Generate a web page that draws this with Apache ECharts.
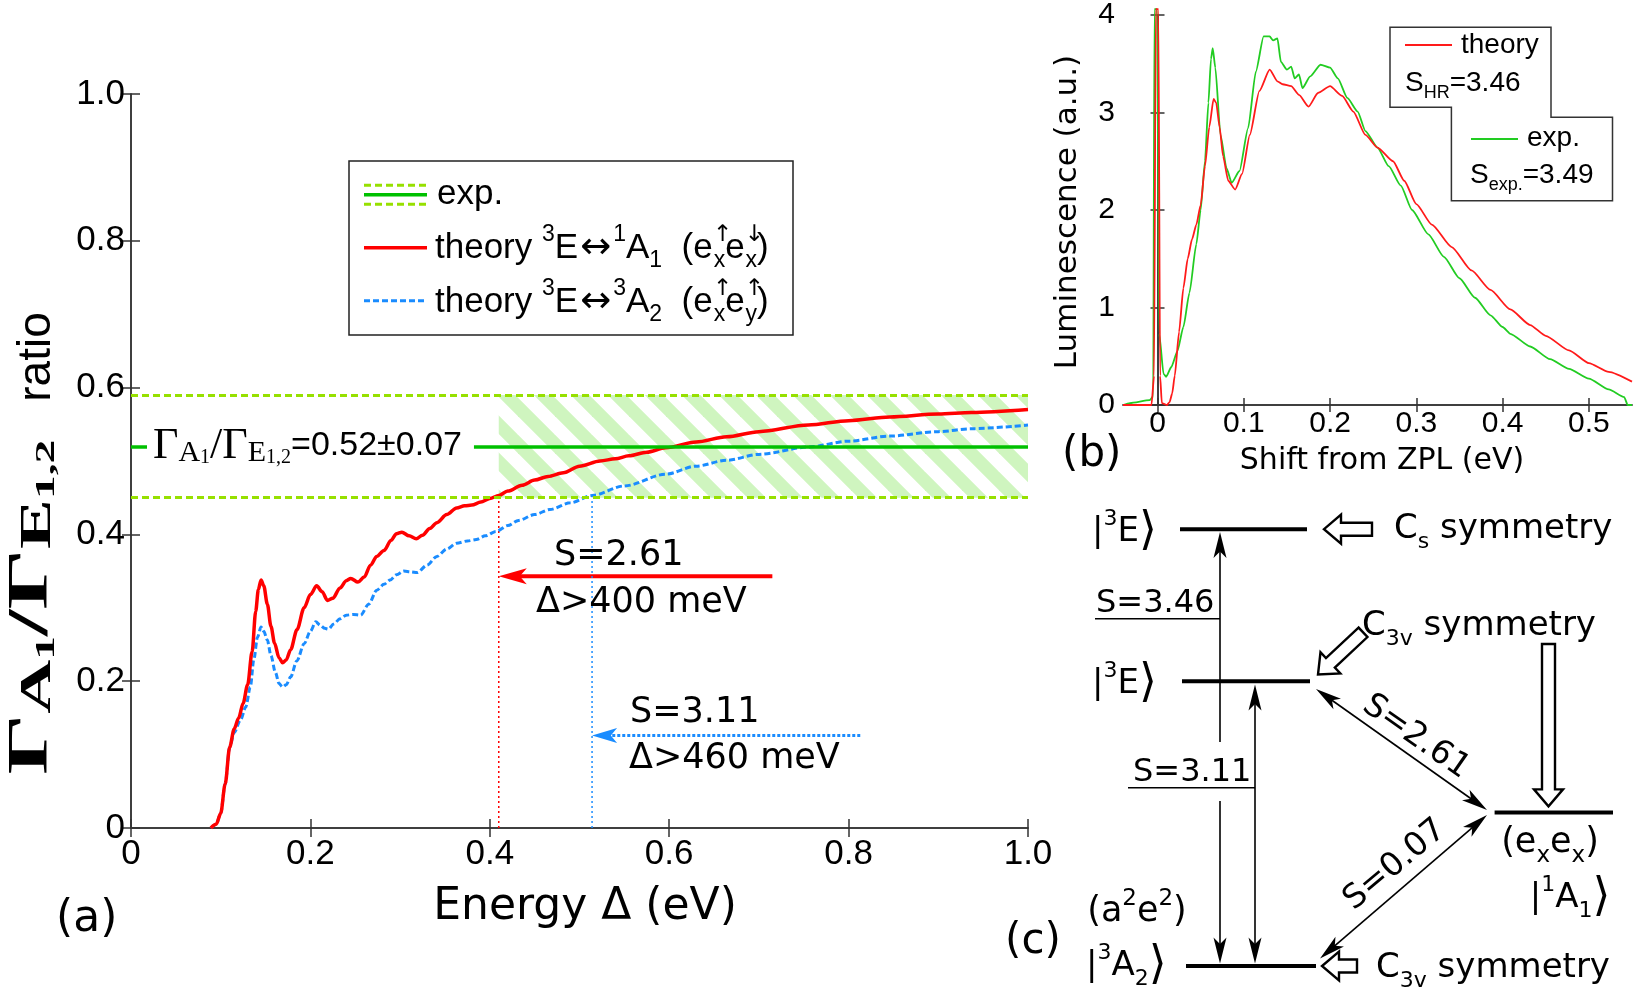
<!DOCTYPE html>
<html>
<head>
<meta charset="utf-8">
<title>Ratio, luminescence and level scheme</title>
<script src="https://cdn.jsdelivr.net/npm/echarts@6.0.0/dist/echarts.min.js"></script>
<style>
  html, body { margin: 0; padding: 0; background: #fff; }
  #chart { width: 1636px; height: 1002px; }
</style>
</head>
<body>
<div id="chart"></div>
<script>
// (a) ratio Γ_A1/Γ_E1,2 against the energy gap Δ (eV)
const theoryA1 = [
  [0.089, 0], [0.095, 0.005], [0.100, 0.02], [0.105, 0.06], [0.110, 0.11], [0.115, 0.135],
  [0.120, 0.15], [0.125, 0.17], [0.130, 0.195], [0.135, 0.24], [0.139, 0.295], [0.142, 0.325],
  [0.145, 0.338], [0.148, 0.33], [0.152, 0.305], [0.156, 0.275], [0.160, 0.252], [0.165, 0.232],
  [0.169, 0.225], [0.173, 0.229], [0.178, 0.243], [0.185, 0.27], [0.193, 0.3], [0.200, 0.318],
  [0.207, 0.33], [0.213, 0.322], [0.219, 0.31], [0.225, 0.313], [0.233, 0.327], [0.240, 0.337],
  [0.245, 0.34], [0.253, 0.335], [0.260, 0.342], [0.267, 0.358], [0.274, 0.37], [0.282, 0.378],
  [0.290, 0.392], [0.296, 0.401], [0.302, 0.403], [0.310, 0.398], [0.318, 0.394], [0.325, 0.399],
  [0.333, 0.408], [0.341, 0.416], [0.352, 0.427], [0.363, 0.436], [0.372, 0.439], [0.380, 0.44],
  [0.390, 0.444], [0.400, 0.449], [0.410, 0.453], [0.420, 0.459], [0.436, 0.467], [0.450, 0.474],
  [0.465, 0.479], [0.482, 0.484], [0.500, 0.493], [0.523, 0.5], [0.540, 0.503], [0.555, 0.507],
  [0.575, 0.512], [0.596, 0.518], [0.630, 0.526], [0.664, 0.533], [0.700, 0.54], [0.755, 0.549],
  [0.800, 0.555], [0.846, 0.56], [0.900, 0.564], [0.937, 0.566], [1.000, 0.57]
];
const theoryA2 = [
  [0.089, 0], [0.095, 0.005], [0.100, 0.02], [0.105, 0.06], [0.110, 0.11], [0.115, 0.13],
  [0.122, 0.147], [0.128, 0.165], [0.133, 0.192], [0.137, 0.23], [0.141, 0.26], [0.145, 0.274],
  [0.148, 0.268], [0.152, 0.256], [0.156, 0.235], [0.161, 0.212], [0.165, 0.197], [0.169, 0.192],
  [0.173, 0.195], [0.178, 0.206], [0.185, 0.228], [0.193, 0.251], [0.200, 0.268], [0.206, 0.281],
  [0.211, 0.276], [0.216, 0.272], [0.220, 0.271], [0.226, 0.278], [0.233, 0.285], [0.240, 0.29],
  [0.248, 0.291], [0.256, 0.29], [0.265, 0.305], [0.274, 0.324], [0.282, 0.332], [0.289, 0.338],
  [0.296, 0.345], [0.304, 0.35], [0.312, 0.349], [0.319, 0.348], [0.330, 0.358], [0.341, 0.37],
  [0.352, 0.38], [0.363, 0.388], [0.375, 0.391], [0.385, 0.393], [0.395, 0.398], [0.407, 0.404],
  [0.420, 0.412], [0.432, 0.419], [0.450, 0.427], [0.467, 0.434], [0.490, 0.443], [0.514, 0.453],
  [0.550, 0.466], [0.596, 0.482], [0.630, 0.493], [0.664, 0.501], [0.700, 0.509], [0.755, 0.519],
  [0.800, 0.527], [0.846, 0.534], [0.900, 0.54], [0.937, 0.544], [1.000, 0.549]
];
const expRatio = 0.52;
const expErr = 0.07;
const cutA1 = 0.41;   // S=2.61 -> Δ>400 meV
const cutA2 = 0.514;  // S=3.11 -> Δ>460 meV
const arrowA1 = [[0.715, 0.343, cutA1, 0.343]];
const arrowA2 = [[0.813, 0.126, cutA2, 0.126]];

// (b) luminescence (a.u.) against shift from ZPL (eV); the ZPL line runs just past the frame
const lumTheory = [
  [-0.04, 0], [-0.007, 0], [-0.004, 0.3], [-0.002, 4.06], [0.001, 4.06], [0.003, 0.3], [0.005, 0.02],
  [0.011, 0], [0.014, 0.03], [0.017, 0.12], [0.02, 0.3], [0.025, 0.75], [0.03, 1.2], [0.035, 1.5],
  [0.04, 1.7], [0.045, 1.85], [0.05, 2.05], [0.055, 2.45], [0.06, 2.85], [0.065, 3.14], [0.068, 3.1],
  [0.072, 2.85], [0.076, 2.55], [0.082, 2.3], [0.09, 2.21], [0.098, 2.37], [0.107, 2.77], [0.118, 3.22],
  [0.13, 3.44], [0.139, 3.32], [0.145, 3.29], [0.155, 3.27], [0.164, 3.18], [0.175, 3.06], [0.186, 3.2],
  [0.2, 3.27], [0.214, 3.17], [0.227, 3.01], [0.241, 2.77], [0.255, 2.64], [0.273, 2.5], [0.286, 2.3],
  [0.3, 2.06], [0.318, 1.85], [0.341, 1.62], [0.364, 1.38], [0.386, 1.18], [0.409, 0.98], [0.432, 0.82],
  [0.45, 0.71], [0.477, 0.56], [0.5, 0.43], [0.523, 0.34], [0.55, 0.24]
];
const lumExp = [
  [-0.04, 0], [-0.032, 0.02], [-0.009, 0.05], [-0.005, 0.09], [-0.0035, 4.06], [-0.0005, 4.06],
  [0.002, 0.73], [0.007, 0.32], [0.01, 0.29], [0.016, 0.39], [0.023, 0.55], [0.03, 0.8], [0.037, 1.15],
  [0.045, 1.65], [0.05, 2.0], [0.055, 2.5], [0.059, 3.1], [0.062, 3.55], [0.064, 3.66], [0.067, 3.46],
  [0.073, 2.77], [0.08, 2.43], [0.086, 2.28], [0.095, 2.4], [0.105, 2.84], [0.114, 3.42], [0.123, 3.78],
  [0.13, 3.78], [0.134, 3.74], [0.139, 3.76], [0.143, 3.52], [0.15, 3.44], [0.155, 3.47], [0.159, 3.35],
  [0.164, 3.39], [0.168, 3.25], [0.177, 3.37], [0.189, 3.49], [0.2, 3.46], [0.209, 3.35], [0.22, 3.15],
  [0.232, 3.01], [0.241, 2.81], [0.255, 2.64], [0.268, 2.45], [0.282, 2.25], [0.295, 2.0], [0.314, 1.75],
  [0.332, 1.52], [0.35, 1.3], [0.368, 1.1], [0.386, 0.92], [0.4, 0.8], [0.409, 0.73], [0.432, 0.6],
  [0.455, 0.47], [0.477, 0.37], [0.5, 0.27], [0.523, 0.16], [0.541, 0.08], [0.545, 0], [0.55, 0]
];
const shiftTicks = [0, 0.1, 0.2, 0.3, 0.4, 0.5];
const sTheory = 3.46;
const sExp = 3.49;

// (c) level scheme; the diagram has no axes, so it is laid out in page pixels
const levels = [[1180, 1307, 529.2], [1182, 1310, 681.3], [1494.6, 1613, 812.5], [1186, 1316, 966]];
const underlines = [[1095, 1220, 618.7], [1128, 1255, 787.8]];
const thinArrows = [
  [1220, 742, 1220, 532, 1], [1220, 801, 1220, 963.5, 1],
  [1255, 963.5, 1255, 684.5, 2],
  [1316, 689, 1487, 810, 2],
  [1320, 958.5, 1487, 815, 2]
];
const hollowArrows = [[1372, 529.2, 1324, 529.2], [1363, 632.3, 1318, 674.5], [1548.5, 644, 1548.5, 806.4], [1357, 966, 1322, 966]];

const SANS = 'Liberation Sans', DJV = 'DejaVu Sans', SERIF = 'Liberation Serif';
const RED = '#ff0000', BLUE = '#1a8cff', GREEN = '#00c000', LIME = '#96e000';

// light green hatch for the experimental band
const P = 37;
const hatch = document.createElement('canvas');
hatch.width = P; hatch.height = P;
const hc = hatch.getContext('2d');
hc.strokeStyle = '#cff5bf';
hc.lineWidth = P / (2 * Math.SQRT2);
[-2 * P, -P, 0, P, 2 * P].forEach(function (c) {
  hc.beginPath(); hc.moveTo(c - P, -P); hc.lineTo(c + 2 * P, 2 * P); hc.stroke();
});

function headPoints(tip, tail, len, hw, notch) {
  const dx = tip[0] - tail[0], dy = tip[1] - tail[1], L = Math.hypot(dx, dy);
  const ux = dx / L, uy = dy / L, nx = -uy, ny = ux;
  const bx = tip[0] - ux * len, by = tip[1] - uy * len;
  return [tip, [bx + nx * hw, by + ny * hw], [tip[0] - ux * len * notch, tip[1] - uy * len * notch], [bx - nx * hw, by - ny * hw]];
}

function arrowRenderer(color, width, dash, len, hw) {
  return function (params, api) {
    const a = api.coord([api.value(0), api.value(1)]);
    const b = api.coord([api.value(2), api.value(3)]);
    const both = api.value(4) === 2;
    const dx = b[0] - a[0], dy = b[1] - a[1], L = Math.hypot(dx, dy), ux = dx / L, uy = dy / L;
    const cut = len * 0.7;
    const s = both ? [a[0] + ux * cut, a[1] + uy * cut] : a;
    const e = [b[0] - ux * cut, b[1] - uy * cut];
    const kids = [{ type: 'line', shape: { x1: s[0], y1: s[1], x2: e[0], y2: e[1] },
      style: { stroke: color, lineWidth: width, lineDash: dash, fill: null } }];
    kids.push({ type: 'polygon', shape: { points: headPoints(b, a, len, hw, 0.75) }, style: { fill: color } });
    if (both) kids.push({ type: 'polygon', shape: { points: headPoints(a, b, len, hw, 0.75) }, style: { fill: color } });
    return { type: 'group', children: kids };
  };
}

function segRenderer(width) {
  return function (params, api) {
    const a = api.coord([api.value(0), api.value(2)]);
    const b = api.coord([api.value(1), api.value(2)]);
    return { type: 'line', shape: { x1: a[0], y1: a[1], x2: b[0], y2: b[1] }, style: { stroke: '#000', lineWidth: width } };
  };
}

function hollowRenderer(params, api) {
  const t = api.coord([api.value(0), api.value(1)]);
  const p = api.coord([api.value(2), api.value(3)]);
  const dx = p[0] - t[0], dy = p[1] - t[1], L = Math.hypot(dx, dy);
  const ux = dx / L, uy = dy / L, nx = -uy, ny = ux;
  const bw = 6.5, hw = 14.5, hl = 17;
  const bx = p[0] - ux * hl, by = p[1] - uy * hl;
  const pts = [[t[0] + nx * bw, t[1] + ny * bw], [bx + nx * bw, by + ny * bw], [bx + nx * hw, by + ny * hw], p,
    [bx - nx * hw, by - ny * hw], [bx - nx * bw, by - ny * bw], [t[0] - nx * bw, t[1] - ny * bw]];
  return { type: 'polygon', shape: { points: pts }, style: { fill: '#fff', stroke: '#000', lineWidth: 2.4 } };
}

function label(x, y, text, size, family, extra) {
  const el = { type: 'text', x: x, y: y, z: 100,
    style: Object.assign({ text: text, fontSize: size, fontFamily: family, fill: '#000', align: 'left', verticalAlign: 'middle' },
      extra && extra.style) };
  if (extra && extra.rotation != null) el.rotation = extra.rotation;
  if (extra && extra.scaleX != null) el.scaleX = extra.scaleX;
  return el;
}
// super/subscript tokens; the line box is made taller so top/bottom tokens move out further
function scripts(size, family, more) {
  const s = Math.round(size * 0.66);
  return Object.assign({
    p: { fontSize: s, fontFamily: family, verticalAlign: 'top' },
    b: { fontSize: s, fontFamily: family, verticalAlign: 'bottom' },
    u: { fontSize: s, fontFamily: DJV, verticalAlign: 'top', width: 1 },
    ar: { fontSize: Math.round(size * 1.05), fontFamily: DJV, padding: [0, 2, 0, 2] },
    k: { fontSize: Math.round(size * 1.35), fontFamily: DJV }
  }, more);
}
function scripted(x, y, text, size, family, extraStyle) {
  return label(x, y, text, size, family, {
    style: Object.assign({ lineHeight: Math.round(size * 1.4), rich: scripts(size, family) }, extraStyle)
  });
}
function seg(x1, y1, x2, y2, color, width, dash) {
  return { type: 'line', z: 101, shape: { x1: x1, y1: y1, x2: x2, y2: y2 }, style: { stroke: color, lineWidth: width, lineDash: dash || null } };
}
const fmt1 = function (v) { return v === 0 ? '0' : v.toFixed(1); };

const gammaRich = function (g, a, s, bold) {
  const w = bold ? 'bold' : 'normal';
  return {
    G: { fontSize: g, fontFamily: SERIF, fontWeight: w },
    a: { fontSize: a, fontFamily: SERIF, fontWeight: w, verticalAlign: 'bottom' },
    s: { fontSize: s, fontFamily: SERIF, fontWeight: w, verticalAlign: 'bottom' }
  };
};

const graphics = [
  // panel (a)
  label(33, 607, '{G|Γ}{a|A}{s|1}{G|/Γ}{a|E}{s|1,2}', 56, SERIF, {
    rotation: Math.PI / 2, scaleX: 1.7,
    style: { align: 'center', rich: gammaRich(56, 44, 28, true) }
  }),
  label(37, 357, 'ratio', 46, SANS, { rotation: Math.PI / 2, style: { align: 'center' } }),
  label(147, 446, '{G|Γ}{a|A}{s|1}{G|/Γ}{a|E}{s|1,2}=' + expRatio.toFixed(2) + '±' + expErr.toFixed(2), 34, SANS, {
    style: { backgroundColor: '#fff', padding: [4, 12, 4, 6], rich: gammaRich(44, 30, 20, false) }
  }),
  label(585, 908, 'Energy Δ (eV)', 44, DJV, { style: { align: 'center' } }),
  label(56, 920, '(a)', 44, DJV),
  label(554, 556, 'S=2.61', 35, DJV),
  label(536, 603, 'Δ>400 meV', 35, DJV),
  label(630, 713, 'S=3.11', 35, DJV),
  label(629, 759, 'Δ>460 meV', 35, DJV),
  { type: 'rect', z: 99, shape: { x: 349, y: 161, width: 444, height: 174 }, style: { fill: '#fff', stroke: '#222', lineWidth: 1.5 } },
  seg(364, 185.3, 427, 185.3, LIME, 3, [7, 4]),
  seg(364, 194.7, 427, 194.7, GREEN, 3.5),
  seg(364, 204.3, 427, 204.3, LIME, 3, [7, 4]),
  label(437, 194, 'exp.', 35, SANS),
  seg(364, 247.7, 427, 247.7, RED, 3.5),
  scripted(435, 248, 'theory {p|3}E{ar|↔}{p|1}A{b|1}  (e{u|↑}{b|x}e{u|↓}{b|x})', 35, SANS),
  seg(364, 300.7, 427, 300.7, BLUE, 3, [6, 3]),
  scripted(435, 302, 'theory {p|3}E{ar|↔}{p|3}A{b|2}  (e{u|↑}{b|x}e{u|↑}{b|y})', 35, SANS),

  // panel (b)
  label(1068, 212, 'Luminescence (a.u.)', 31, DJV, { rotation: Math.PI / 2, style: { align: 'center' } }),
  label(1382, 461, 'Shift from ZPL (eV)', 30, DJV, { style: { align: 'center' } }),
  label(1062, 455, '(b)', 42, DJV),
  { type: 'polygon', z: 99, shape: { points: [[1390, 27.3], [1551, 27.3], [1551, 117.3], [1612.5, 117.3], [1612.5, 200.7], [1451.4, 200.7], [1451.4, 107.3], [1390, 107.3]] },
    style: { fill: '#fff', stroke: '#333', lineWidth: 1.5 } },
  seg(1405, 45, 1452, 45, '#ff1a1a', 1.8),
  label(1461, 45, 'theory', 28, SANS),
  scripted(1405, 83, 'S{b|HR}=' + sTheory.toFixed(2), 28, SANS),
  seg(1471, 139, 1518, 139, '#22cc22', 1.8),
  label(1527, 138.5, 'exp.', 28, SANS),
  scripted(1470, 175, 'S{b|exp.}=' + sExp.toFixed(2), 28, SANS),

  // panel (c)
  scripted(1092, 532, '|{p|3}E{k|⟩}', 34, DJV),
  scripted(1092, 684, '|{p|3}E{k|⟩}', 34, DJV),
  scripted(1086, 966, '|{p|3}A{b|2}{k|⟩}', 34, DJV),
  scripted(1137, 912, '(a{p|2}e{p|2})', 35, DJV, { align: 'center' }),
  label(1005, 942, '(c)', 42, DJV),
  label(1096, 603.5, 'S=3.46', 32, DJV),
  label(1133, 772.6, 'S=3.11', 32, DJV),
  scripted(1394, 529, 'C{b|s} symmetry', 34, DJV),
  scripted(1362, 626, 'C{b|3v} symmetry', 34, DJV),
  scripted(1376, 968, 'C{b|3v} symmetry', 34, DJV),
  scripted(1550, 843, '(e{b|x}e{b|x})', 35, DJV, { align: 'center' }),
  scripted(1570, 898, '|{p|1}A{b|1}{k|⟩}', 34, DJV, { align: 'center' }),
  label(1416, 737, 'S=2.61', 33, DJV, { rotation: -35 * Math.PI / 180, style: { align: 'center' } }),
  label(1395, 865, 'S=0.07', 33, DJV, { rotation: 40 * Math.PI / 180, style: { align: 'center' } })
];

const axisLineA = { show: true, lineStyle: { color: '#333', width: 1.5 } };
const tickIn = function (len) { return { show: true, inside: true, length: len, lineStyle: { color: '#333', width: 1.5 } }; };

const chart = echarts.init(document.getElementById('chart'));
chart.setOption({
  animation: false,
  backgroundColor: '#fff',
  grid: [
    { left: 131, top: 94, width: 897, height: 734 },
    { left: 1123, top: 13, width: 509, height: 392 },
    { left: 0, top: 0, width: 1636, height: 1002 }
  ],
  xAxis: [
    { gridIndex: 0, type: 'value', min: 0, max: 1, interval: 0.2, position: 'bottom',
      axisLine: axisLineA, axisTick: tickIn(9), splitLine: { show: false },
      axisLabel: { fontFamily: SANS, fontSize: 35, color: '#000', margin: 9, formatter: fmt1 } },
    { gridIndex: 0, type: 'value', min: 0, max: 1, interval: 0.2, position: 'top',
      axisLine: axisLineA, axisTick: tickIn(9), splitLine: { show: false }, axisLabel: { show: false } },
    { gridIndex: 1, type: 'value', min: -0.04, max: 0.55, position: 'bottom',
      axisLine: axisLineA, axisTick: Object.assign(tickIn(7), { customValues: shiftTicks }), splitLine: { show: false },
      axisLabel: { fontFamily: SANS, fontSize: 30, color: '#000', margin: 4, customValues: shiftTicks, formatter: fmt1 } },
    { gridIndex: 1, type: 'value', min: -0.04, max: 0.55, position: 'top',
      axisLine: axisLineA, axisTick: Object.assign(tickIn(7), { customValues: shiftTicks }), splitLine: { show: false }, axisLabel: { show: false } },
    { gridIndex: 2, type: 'value', min: 0, max: 1636, show: false }
  ],
  yAxis: [
    { gridIndex: 0, type: 'value', min: 0, max: 1, interval: 0.2, position: 'left',
      axisLine: axisLineA, axisTick: tickIn(9), splitLine: { show: false },
      axisLabel: { fontFamily: SANS, fontSize: 35, color: '#000', margin: 6, formatter: fmt1 } },
    { gridIndex: 0, type: 'value', min: 0, max: 1, interval: 0.2, position: 'right',
      axisLine: axisLineA, axisTick: tickIn(9), splitLine: { show: false }, axisLabel: { show: false } },
    { gridIndex: 1, type: 'value', min: 0, max: 4, interval: 1, position: 'left',
      axisLine: axisLineA, axisTick: tickIn(7), splitLine: { show: false },
      axisLabel: { fontFamily: SANS, fontSize: 30, color: '#000', margin: 8 } },
    { gridIndex: 1, type: 'value', min: 0, max: 4, interval: 1, position: 'right',
      axisLine: axisLineA, axisTick: tickIn(7), splitLine: { show: false }, axisLabel: { show: false } },
    { gridIndex: 2, type: 'value', min: 0, max: 1002, inverse: true, show: false }
  ],
  series: [
    // (a) experimental band
    { type: 'line', name: 'exp.', xAxisIndex: 0, yAxisIndex: 0, data: [], silent: true,
      markArea: { silent: true, label: { show: false },
        itemStyle: { color: { image: hatch, repeat: 'repeat' } },
        data: [[{ coord: [cutA1, expRatio - expErr] }, { coord: [1, expRatio + expErr] }]] },
      markLine: { silent: true, symbol: 'none', label: { show: false }, animation: false,
        data: [
          [{ coord: [0, expRatio], lineStyle: { color: GREEN, width: 3.5, type: 'solid' } }, { coord: [1, expRatio] }],
          [{ coord: [0, expRatio + expErr], lineStyle: { color: LIME, width: 3, type: [7, 4] } }, { coord: [1, expRatio + expErr] }],
          [{ coord: [0, expRatio - expErr], lineStyle: { color: LIME, width: 3, type: [7, 4] } }, { coord: [1, expRatio - expErr] }]
        ] } },
    { type: 'line', name: 'cut A1', xAxisIndex: 0, yAxisIndex: 0, showSymbol: false, silent: true,
      data: [[cutA1, 0], [cutA1, expRatio - expErr]], lineStyle: { color: RED, width: 1.5, type: [2, 3] } },
    { type: 'line', name: 'cut A2', xAxisIndex: 0, yAxisIndex: 0, showSymbol: false, silent: true,
      data: [[cutA2, 0], [cutA2, expRatio - expErr]], lineStyle: { color: BLUE, width: 1.5, type: [2, 3] } },
    { type: 'line', name: 'theory 3A2', xAxisIndex: 0, yAxisIndex: 0, data: theoryA2, showSymbol: false, silent: true,
      smooth: 0.3, smoothMonotone: 'x', lineStyle: { color: BLUE, width: 3, type: [6, 3] }, z: 3 },
    { type: 'line', name: 'theory 1A1', xAxisIndex: 0, yAxisIndex: 0, data: theoryA1, showSymbol: false, silent: true,
      smooth: 0.3, smoothMonotone: 'x', lineStyle: { color: RED, width: 3.5 }, z: 4 },
    { type: 'custom', xAxisIndex: 0, yAxisIndex: 0, data: arrowA1, silent: true,
      renderItem: arrowRenderer(RED, 4, null, 28, 8) },
    { type: 'custom', xAxisIndex: 0, yAxisIndex: 0, data: arrowA2, silent: true,
      renderItem: arrowRenderer(BLUE, 3, [3, 2], 25, 7.5) },

    // (b) luminescence
    { type: 'line', name: 'exp.', xAxisIndex: 2, yAxisIndex: 2, data: lumExp, showSymbol: false, silent: true, clip: false,
      smooth: 0.2, smoothMonotone: 'x', lineStyle: { color: '#22cc22', width: 1.8 } },
    { type: 'line', name: 'theory', xAxisIndex: 2, yAxisIndex: 2, data: lumTheory, showSymbol: false, silent: true, clip: false,
      smooth: 0.2, smoothMonotone: 'x', lineStyle: { color: '#ff1a1a', width: 1.8 } },

    // (c) level scheme
    { type: 'custom', xAxisIndex: 4, yAxisIndex: 4, data: levels, silent: true, renderItem: segRenderer(4) },
    { type: 'custom', xAxisIndex: 4, yAxisIndex: 4, data: underlines, silent: true, renderItem: segRenderer(1.5) },
    { type: 'custom', xAxisIndex: 4, yAxisIndex: 4, data: thinArrows, silent: true, renderItem: arrowRenderer('#000', 1.6, null, 26, 6.5) },
    { type: 'custom', xAxisIndex: 4, yAxisIndex: 4, data: hollowArrows, silent: true, renderItem: hollowRenderer }
  ],
  graphic: graphics
});
</script>
</body>
</html>
